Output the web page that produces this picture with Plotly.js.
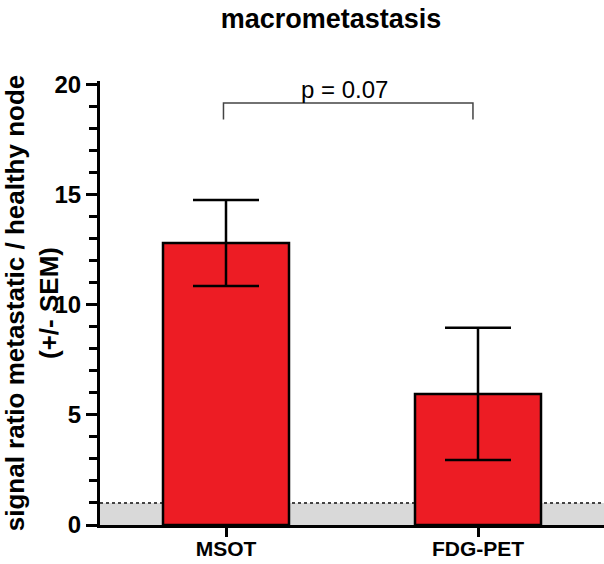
<!DOCTYPE html>
<html>
<head>
<meta charset="utf-8">
<script src="https://cdn.plot.ly/plotly-3.0.1.min.js"></script>
<style>html,body{margin:0;padding:0;background:#fff;}#chart{width:604px;height:564px;}</style>
</head>
<body>
<div id="chart"></div>
<script>
const categories = ["MSOT", "FDG-PET"];
const meanRatio = [12.8, 5.95];
const semRatio = [1.95, 3.0];
const baselineLevel = 1;
const pValueLabel = "p = 0.07";
const chartTitle = "macrometastasis";
const yTitle = "signal ratio metastatic / healthy node<br>(+/- SEM)";
const yTickVals = [0, 5, 10, 15, 20];

const FONT = "Liberation Sans, Arial, Helvetica, sans-serif";

const trace = {
  type: "bar",
  x: categories,
  y: meanRatio,
  width: 0.5,
  marker: {color: "#ed1c24", line: {color: "#000", width: 2.5}},
  error_y: {type: "data", array: semRatio, visible: true, color: "#000", thickness: 2.5, width: 33},
  hoverinfo: "skip"
};

const layout = {
  width: 604, height: 564,
  margin: {l: 100, r: 0, t: 81, b: 39},
  paper_bgcolor: "#fff", plot_bgcolor: "#fff",
  showlegend: false,
  font: {family: FONT, color: "#000"},
  title: {
    text: chartTitle,
    font: {family: FONT, size: 27, weight: "bold", color: "#000"},
    xref: "container", x: 331/604, xanchor: "center",
    yref: "container", y: 1 - 19/564, yanchor: "middle"
  },
  xaxis: {
    type: "category",
    range: [-0.5, 1.5],
    showline: true, linecolor: "#000", linewidth: 3,
    ticks: "outside", ticklen: 9, tickwidth: 3, tickcolor: "#000",
    ticklabelstandoff: -6,
    tickfont: {family: FONT, size: 21, weight: "bold", color: "#000"},
    showgrid: false, zeroline: false, fixedrange: true
  },
  yaxis: {
    range: [0, 20.15],
    tickvals: yTickVals,
    showline: true, linecolor: "#000", linewidth: 3,
    ticks: "outside", ticklen: 11, tickwidth: 3, tickcolor: "#000",
    minor: {dtick: 1, ticks: "outside", ticklen: 8, tickwidth: 3, tickcolor: "#000", showgrid: false},
    tickfont: {family: FONT, size: 24, weight: "bold", color: "#000"},
    showgrid: false, zeroline: false,
    title: {text: yTitle, font: {family: FONT, size: 26, weight: "bold", color: "#000"}, standoff: 6},
    automargin: false
  },
  shapes: [
    {type: "rect", xref: "paper", x0: 0, x1: 1, yref: "y", y0: 0, y1: baselineLevel,
     fillcolor: "#d9d9d9", line: {width: 0}, layer: "below"},
    {type: "line", xref: "paper", x0: 0, x1: 1, yref: "y", y0: baselineLevel, y1: baselineLevel,
     line: {color: "#444", width: 2, dash: "dot"}, layer: "below"},
    {type: "path", xref: "x", yref: "y",
     path: "M -0.01,18.4 L -0.01,19.15 L 0.98,19.15 L 0.98,18.4",
     line: {color: "#444", width: 1.5}}
  ],
  annotations: [
    {text: pValueLabel, xref: "x", yref: "y", x: 0.47, y: 19.75, xanchor: "center", yanchor: "middle",
     showarrow: false, font: {family: FONT, size: 24, color: "#000"}}
  ]
};

Plotly.newPlot("chart", [trace], layout, {staticPlot: true, displayModeBar: false});
</script>
</body>
</html>
